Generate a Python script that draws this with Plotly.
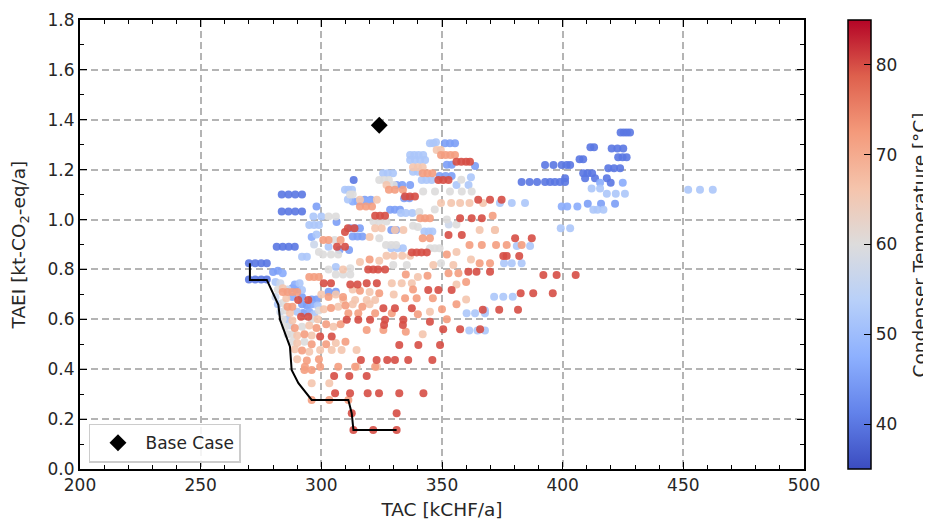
import plotly.graph_objects as go

# ---- data ----
# condenser temperature groups [degC]
temp_levels = [40, 45, 47, 52, 57, 60, 66, 72, 80]

tac_40 = [270.0, 272.6, 275.1, 277.4,
          270.0, 272.6, 275.1, 277.4,
          281.5, 284.0, 286.5, 289.0,
          283.6, 286.4, 289.2, 292.0,
          283.6, 286.4, 289.2, 292.0,
          313.4,
          424.0, 425.3, 426.6, 427.9,
          411.5, 413.0,
          420.3, 422.7, 425.1,
          423.0, 424.8, 426.5,
          407.0, 408.5,
          392.7, 396.2, 399.6, 401.7, 403.1,
          418.9, 421.3, 423.8,
          408.5, 410.3, 412.2,
          401.0, 409.3, 413.4, 418.3,
          383.0, 386.3, 389.4, 392.7, 394.8, 396.8, 398.9, 401.0,
          419.9]
taei_40 = [0.825, 0.825, 0.825, 0.825,
           0.760, 0.760, 0.760, 0.760,
           0.891, 0.891, 0.891, 0.891,
           1.100, 1.100, 1.100, 1.100,
           1.032, 1.032, 1.032, 1.032,
           1.159,
           1.349, 1.349, 1.349, 1.349,
           1.290, 1.290,
           1.285, 1.285, 1.285,
           1.250, 1.250, 1.250,
           1.242, 1.242,
           1.219, 1.219, 1.219, 1.219, 1.219,
           1.206, 1.206, 1.206,
           1.186, 1.186, 1.186,
           1.166, 1.166, 1.166, 1.166,
           1.151, 1.151, 1.151, 1.151, 1.151, 1.151, 1.151, 1.151,
           1.148]

tac_45 = [351.2, 353.3, 355.4, 352.0, 354.0, 363.7,
          349.0, 351.5, 354.0, 331.2, 333.5, 336.8,
          328.5, 330.5, 332.6, 318.0, 320.5,
          312.0, 314.0, 316.0, 313.0, 315.0, 317.0,
          307.5, 311.5, 306.3, 298.0, 329.0, 331.0,
          303.0, 306.0, 410.4, 415.9, 421.7, 334.3, 336.5,
          292.0, 296.0, 298.0, 292.0, 294.0, 292.5,
          288.0, 290.0, 280.0, 282.0]
taei_45 = [1.306, 1.306, 1.306, 1.220, 1.220, 1.215,
           1.175, 1.175, 1.175, 1.139, 1.139, 1.139,
           1.039, 1.039, 1.039, 1.079, 1.079,
           0.965, 0.965, 0.965, 0.932, 0.932, 0.932,
           0.878, 0.878, 0.990, 1.052, 0.958, 0.958,
           0.711, 0.711, 1.063, 1.063, 1.063, 1.085, 1.085,
           0.690, 0.680, 0.680, 0.660, 0.655, 0.625,
           0.725, 0.720, 0.790, 0.795]

tac_47 = [313.0, 315.0, 317.0, 319.5,
          399.6, 401.9, 406.1,
          296.0, 295.0, 296.0, 288.0, 289.0, 284.0,
          415.5, 424.9]
taei_47 = [1.072, 1.072, 1.072, 1.072,
           1.052, 1.052, 1.052,
           0.660, 0.630, 0.930, 0.690, 0.740, 0.785,
           1.148, 1.148]

tac_52 = [345.0, 346.4, 347.5,
          336.8, 338.5, 340.3, 342.2,
          336.8, 338.8, 341.0, 343.0,
          325.6, 327.5, 329.7,
          341.6, 343.6, 345.7,
          356.0, 361.0,
          374.0, 378.9, 384.4,
          309.8, 311.2, 312.7, 311.0,
          333.0, 335.0, 337.7,
          342.7, 344.5, 346.0,
          329.0, 331.5, 333.8,
          371.6, 375.4, 379.3,
          381.0, 386.5,
          375.7, 378.9, 383.0,
          360.2, 363.7, 367.8,
          361.3, 364.7, 367.8, 367.8,
          452.0, 456.9, 462.2,
          412.0, 415.5,
          418.3, 422.0, 425.8,
          412.7, 414.4, 416.9,
          399.2, 403.1,
          295.0, 297.0, 299.0,
          296.7, 300.0,
          292.0, 294.0, 303.0,
          338.0, 340.0, 362.0, 298.0,
          281.0, 291.0, 292.0, 282.0, 290.0, 297.0, 286.0, 298.5,
          306.0]
taei_52 = [1.306, 1.306, 1.310,
           1.259, 1.259, 1.259, 1.259,
           1.239, 1.239, 1.239, 1.239,
           1.186, 1.186, 1.186,
           1.159, 1.159, 1.159,
           1.139, 1.139,
           1.066, 1.066, 1.066,
           1.119, 1.119, 1.119, 1.080,
           1.026, 1.026, 1.026,
           0.952, 0.952, 0.952,
           0.885, 0.885, 0.885,
           0.691, 0.691, 0.691,
           0.894, 0.894,
           0.825, 0.825, 0.825,
           0.624, 0.624, 0.624,
           0.555, 0.555, 0.555, 0.635,
           1.119, 1.119, 1.119,
           1.125, 1.125,
           1.103, 1.103, 1.103,
           1.039, 1.039, 1.039,
           0.965, 0.965,
           0.978, 0.978, 0.978,
           1.012, 1.012,
           0.851, 0.851, 0.891,
           1.192, 1.192, 1.170, 0.940,
           0.750, 0.745, 0.718, 0.660, 0.630, 0.620, 0.600, 0.655,
           0.810]

tac_57 = [352.8, 297.0, 283.0, 286.0, 281.0, 283.0, 287.0]
taei_57 = [0.980, 0.900, 0.745, 0.720, 0.690, 0.630, 0.575]

tac_60 = [324.0, 326.0, 328.0,
          342.2, 347.1, 353.3, 358.2, 362.3,
          347.0,
          326.8, 329.0, 331.0,
          345.0, 347.0, 349.0,
          329.8, 335.4,
          321.6, 324.0, 327.0,
          300.7, 304.0, 307.0,
          306.0, 309.0, 312.0,
          311.9, 313.0,
          303.0, 306.0,
          349.6, 356.0, 330.0, 340.6, 338.0, 340.0, 352.0, 358.0,
          299.0, 303.0, 312.0, 324.0, 305.5,
          282.0, 284.0, 285.0, 299.0, 284.0, 296.0,
          285.0, 292.0, 286.0, 288.0, 288.0, 293.0]
taei_60 = [1.159, 1.159, 1.159,
           1.112, 1.112, 1.112, 1.112, 1.112,
           1.040,
           0.898, 0.898, 0.898,
           0.885, 0.885, 0.885,
           0.818, 0.818,
           0.992, 0.992, 0.992,
           0.860, 0.860, 0.860,
           0.780, 0.780, 0.780,
           1.100, 1.100,
           1.012, 1.012,
           0.825, 0.980, 1.139, 1.030, 0.975, 0.970, 1.000, 1.160,
           0.870, 0.800, 0.805, 0.925, 0.918,
           0.720, 0.665, 0.635, 0.635, 0.600, 0.600,
           0.570, 0.570, 0.540, 0.540, 0.510, 0.510]

tac_66 = [347.8, 349.5,
          338.0, 340.0, 342.0,
          349.6, 353.8, 357.5, 361.4, 367.0,
          330.5, 334.0, 365.6, 371.9, 322.3, 325.0,
          327.0, 330.0, 333.5, 336.8,
          346.4, 354.7,
          329.2, 333.3, 337.5,
          309.1, 314.0, 318.8, 322.3,
          296.0, 303.3,
          299.5, 304.3, 308.4, 314.6,
          314.7, 323.0,
          316.0, 323.0, 327.0, 309.0,
          300.0, 306.0, 301.0, 307.0, 313.0,
          305.0, 306.0, 313.0, 320.0, 320.0,
          316.0, 324.0, 340.0, 330.0, 345.0, 342.0,
          360.0, 356.0, 362.0, 356.0, 320.0,
          284.0, 285.5, 287.0, 288.0, 295.0, 298.5,
          290.0, 296.0, 290.0, 289.0, 295.0, 290.0,
          372.0]
taei_66 = [1.279, 1.279,
           1.210, 1.210, 1.210,
           1.066, 1.066, 1.066, 1.066, 1.066,
           0.958, 0.958, 0.958, 0.958, 0.965, 0.965,
           0.855, 0.855, 0.855, 0.855,
           0.818, 0.818,
           0.745, 0.745, 0.745,
           0.678, 0.678, 0.678, 0.678,
           0.344, 0.344,
           0.477, 0.477, 0.477, 0.477,
           0.410, 0.410,
           1.079, 1.079, 1.139, 0.800,
           0.700, 0.700, 0.640, 0.650, 0.660,
           0.570, 0.505, 0.720, 0.710, 0.660,
           0.830, 0.835, 0.770, 0.700, 0.630, 0.540,
           0.680, 0.740, 0.840, 0.870, 0.930,
           0.725, 0.685, 0.625, 0.595, 0.575, 0.600,
           0.535, 0.535, 0.505, 0.480, 0.470, 0.440,
           0.958]

tac_72 = [349.6, 351.5, 353.5, 355.4,
          342.0, 344.0, 346.0,
          328.0, 330.5, 333.8,
          316.0, 318.5, 321.0,
          341.0, 343.0, 345.0,
          342.0, 345.0,
          361.4, 366.5, 372.4, 376.8,
          365.6, 369.9,
          352.7, 356.8,
          334.7, 339.5, 346.2,
          311.2, 315.3, 322.3, 329.2,
          318.8, 325.7,
          293.2, 299.5, 307.0, 314.0, 322.3,
          296.0, 303.3, 311.2,
          371.0,
          300.8, 303.0, 308.0,
          295.0, 297.0, 299.0,
          284.0, 286.0, 288.0, 290.0,
          286.0, 288.0,
          293.0, 296.0,
          303.0, 309.0, 304.0, 310.0, 302.0, 308.0, 302.0, 310.0,
          316.0, 324.0, 317.0, 320.0, 335.0, 344.0, 338.0,
          340.0, 350.0, 335.0, 352.0, 356.0, 360.0, 352.0,
          289.0, 298.0, 293.0, 296.0, 292.0, 294.0, 299.0,
          383.0]
taei_72 = [1.259, 1.259, 1.259, 1.259,
           1.186, 1.186, 1.186,
           1.119, 1.119, 1.119,
           1.052, 1.052, 1.052,
           1.005, 1.005, 1.005,
           0.925, 0.925,
           0.898, 0.898, 0.898, 0.898,
           0.825, 0.825,
           0.785, 0.785,
           0.685, 0.685, 0.685,
           0.624, 0.624, 0.624, 0.624,
           0.557, 0.557,
           0.410, 0.410, 0.410, 0.410, 0.410,
           0.277, 0.277, 0.277,
           1.015,
           0.918, 0.918, 0.918,
           0.770, 0.770, 0.770,
           0.710, 0.710, 0.710, 0.710,
           0.650, 0.650,
           0.397, 0.397,
           0.690, 0.690, 0.645, 0.655, 0.580, 0.580, 0.500, 0.510,
           0.715, 0.705, 0.650, 0.840, 0.780, 0.775, 0.720,
           0.620, 0.640, 0.550, 0.600, 0.660, 0.750, 0.860,
           0.565, 0.565, 0.540, 0.500, 0.475, 0.435, 0.440,
           0.898]

tac_80 = [356.0, 358.0, 360.0, 361.6,
          348.5, 350.5, 352.7,
          365.0, 369.9, 374.7,
          334.7, 336.7, 338.8,
          322.3, 324.3, 326.4,
          357.5, 362.3, 366.5,
          311.0, 313.7, 309.8,
          352.7, 358.2,
          380.3, 387.2,
          306.5, 309.8,
          337.5, 339.5, 341.5, 343.7,
          375.4, 376.8, 382.0,
          319.4, 321.5, 323.5, 326.4,
          360.9, 364.3, 369.9,
          392.0, 397.5, 405.4,
          318.8, 323.0, 301.0, 304.0, 312.0, 315.0,
          344.3, 348.5, 354.0,
          382.6, 387.8, 395.9,
          290.4, 294.6,
          325.7, 330.5, 337.5,
          366.9, 373.7, 381.5,
          291.6, 294.6,
          310.5, 315.3, 320.2, 326.4, 334.0,
          326.0, 333.8,
          350.5, 357.5, 365.8,
          299.5, 304.3,
          332.3, 340.2, 349.2,
          316.4, 322.9, 327.3, 330.5, 336.0, 346.0,
          305.3, 311.6, 318.8,
          305.7, 311.9, 319.2, 323.9, 332.3, 342.3,
          312.6, 331.2,
          313.3, 321.5, 331.2,
          345.0]
taei_80 = [1.232, 1.232, 1.232, 1.232,
           1.159, 1.159, 1.159,
           1.079, 1.079, 1.079,
           1.092, 1.092, 1.092,
           1.015, 1.015, 1.015,
           1.005, 1.005, 1.005,
           0.965, 0.965, 0.950,
           0.938, 0.938,
           0.925, 0.925,
           0.891, 0.891,
           0.868, 0.868, 0.868, 0.868,
           0.854, 0.854, 0.854,
           0.800, 0.800, 0.800, 0.800,
           0.791, 0.791, 0.791,
           0.778, 0.778, 0.778,
           0.745, 0.745, 0.745, 0.745, 0.740, 0.740,
           0.718, 0.718, 0.718,
           0.705, 0.705, 0.705,
           0.678, 0.678,
           0.644, 0.644, 0.644,
           0.638, 0.638, 0.638,
           0.610, 0.610,
           0.598, 0.598, 0.598, 0.598, 0.598,
           0.577, 0.577,
           0.560, 0.560, 0.560,
           0.531, 0.531,
           0.497, 0.497, 0.497,
           0.437, 0.437, 0.437, 0.437, 0.437, 0.437,
           0.373, 0.373, 0.373,
           0.304, 0.304, 0.304, 0.304, 0.304, 0.304,
           0.223, 0.223,
           0.156, 0.156, 0.156,
           0.590]

# Pareto front
front_tac = [270.4, 270.4, 277.4, 279.4, 282.2, 282.9, 285.6, 287.0,
             287.7, 290.5, 296.0, 311.2, 312.6, 313.3, 331.2]
front_taei = [0.825, 0.758, 0.758, 0.718, 0.658, 0.598, 0.531, 0.490,
              0.397, 0.344, 0.277, 0.277, 0.223, 0.156, 0.156]

# Base case
base_tac = [324.0]
base_taei = [1.378]

x_ticks = [200, 250, 300, 350, 400, 450, 500]
y_ticks = [0.0, 0.2, 0.4, 0.6, 0.8, 1.0, 1.2, 1.4, 1.6, 1.8]
cbar_ticks = [40, 50, 60, 70, 80]

# ---- assemble ----
groups = [(tac_40, taei_40), (tac_45, taei_45), (tac_47, taei_47),
          (tac_52, taei_52), (tac_57, taei_57), (tac_60, taei_60),
          (tac_66, taei_66), (tac_72, taei_72), (tac_80, taei_80)]
all_x, all_y, all_t = [], [], []
for t, (gx, gy) in zip(temp_levels, groups):
    all_x += gx
    all_y += gy
    all_t += [t] * len(gx)

coolwarm = [
    [0.000, "#3b4cc0"], [0.125, "#6282ea"], [0.250, "#8db0fe"],
    [0.375, "#b8d0f9"], [0.500, "#dddcdc"], [0.625, "#f5c4ac"],
    [0.750, "#f49a7b"], [0.875, "#de604d"], [1.000, "#b40426"],
]

FONT = "DejaVu Sans"
TXT = "#262626"
TICK_SIZE = 17
TITLE_SIZE = 18.5

fig = go.Figure()
fig.add_trace(go.Scatter(
    x=all_x, y=all_y, mode="markers", showlegend=False,
    marker=dict(
        size=8, color=all_t, colorscale=coolwarm, cmin=35, cmax=85,
        opacity=0.9, line=dict(width=0),
        colorbar=dict(
            x=1.0608, xanchor="left", xpad=0,
            y=0.5, yanchor="middle", ypad=0,
            len=1.0, lenmode="fraction",
            thickness=23, thicknessmode="pixels",
            outlinewidth=1.5, outlinecolor="black",
            ticks="inside", ticklen=7, tickwidth=1.3, tickcolor="black",
            tickvals=cbar_ticks, ticktext=[str(v) for v in cbar_ticks],
            tickfont=dict(family=FONT, size=TICK_SIZE, color=TXT),
        ),
    ),
))
fig.add_trace(go.Scatter(
    x=front_tac, y=front_taei, mode="lines", showlegend=False,
    line=dict(color="black", width=2),
))
fig.add_trace(go.Scatter(
    x=base_tac, y=base_taei, mode="markers", name="Base Case",
    marker=dict(symbol="diamond", size=13, color="black"),
))

axis_common = dict(
    ticks="inside", ticklen=7, tickwidth=1.3, tickcolor="black",
    showline=True, linecolor="black", linewidth=2, mirror="ticks",
    showgrid=True, gridcolor="#b4b4b4", gridwidth=1.5, griddash="7px,4px",
    zeroline=False,
    tickfont=dict(family=FONT, size=TICK_SIZE, color=TXT),
)

fig.update_xaxes(
    range=[200, 500], tickvals=x_ticks,
    minor=dict(ticks="inside", ticklen=4, dtick=10, tick0=200,
               tickcolor="black", tickwidth=1, showgrid=False),
    title=dict(text="TAC [kCHF/a]",
               font=dict(family=FONT, size=TITLE_SIZE, color=TXT),
               standoff=9),
    **axis_common,
)
fig.update_yaxes(
    range=[0, 1.8], tickvals=y_ticks, tickformat=".1f",
    minor=dict(ticks="inside", ticklen=4, dtick=0.1, tick0=0,
               tickcolor="black", tickwidth=1, showgrid=False),
    **axis_common,
)

# y-axis title placed as rotated text to match the reference position
fig.add_annotation(
    text="TAEI [kt-CO<sub>2</sub>-eq/a]", textangle=-90,
    xref="paper", yref="paper", x=-0.083, y=0.5,
    xanchor="center", yanchor="middle", showarrow=False,
    font=dict(family=FONT, size=TITLE_SIZE, color=TXT),
)
# colorbar title, rotated, right of the colorbar tick labels
fig.add_annotation(
    text="Condenser Temperature [°C]", textangle=-90,
    xref="paper", yref="paper", x=1.1602, y=0.5,
    xanchor="center", yanchor="middle", showarrow=False,
    font=dict(family=FONT, size=TITLE_SIZE, color=TXT),
)

# the page body adds an 8px offset, so the figure is 8px smaller and the
# left/top margins 8px narrower to keep the plot area where the reference has it
fig.update_layout(
    width=923, height=516,
    margin=dict(l=72, r=127, t=12, b=55, autoexpand=False),
    plot_bgcolor="white", paper_bgcolor="white",
    font=dict(family=FONT, size=TICK_SIZE, color=TXT),
    legend=dict(x=0.0124, y=0.014, xanchor="left", yanchor="bottom",
                itemwidth=45, tracegroupgap=0,
                bgcolor="rgba(255,255,255,0.85)", bordercolor="#cccccc",
                borderwidth=1.5,
                font=dict(family=FONT, size=17, color=TXT)),
)

fig.write_html("out.html")
